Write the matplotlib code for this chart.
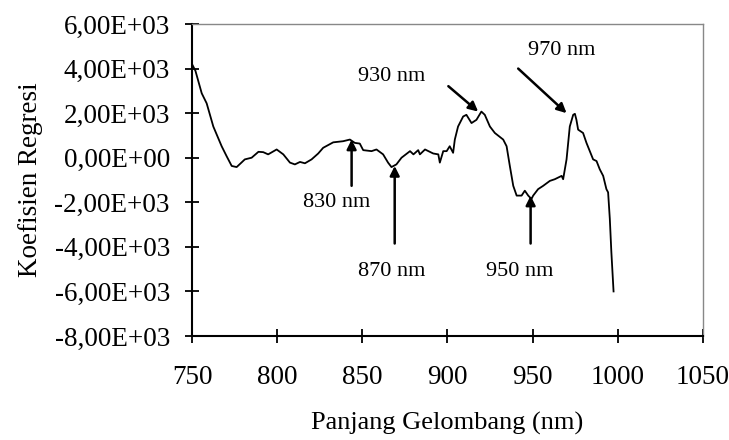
import matplotlib
matplotlib.use("Agg")
import matplotlib.pyplot as plt
from matplotlib.ticker import FuncFormatter

wavelength = [750, 752, 755.7, 758.6, 762.5, 767.4, 770.3, 773.3, 776.2, 779,
              781, 785, 789, 791.8, 794.7, 799.7, 803.6, 807.5, 810.4, 813.4,
              816.3, 820.2, 824.1, 827, 832.9, 838.7, 842.7, 845.6, 848.5, 850.5,
              855.4, 858.3, 862.2, 865.1, 867.1, 870, 873, 878, 880, 882.8,
              883.8, 886.8, 891.6, 894.6, 895.5, 897.5, 899.5, 901.3, 903.3, 904.3,
              906.2, 909.2, 911.1, 914.1, 917, 919.9, 921.9, 924.9, 927.8, 932.7,
              934.7, 936.6, 938.6, 940.6, 943.5, 945.4, 947.4, 949.3, 950.3, 953.2,
              956.2, 960.1, 963, 967, 967.9, 969.9, 971.8, 973.8, 974.8, 975.7,
              976.7, 979.6, 981.6, 985.5, 987.5, 989.4, 991.4, 993.3, 994.3, 995.3,
              996.2, 997.5]
coef = [4200, 3900, 2890, 2440, 1400, 515, 70, -370, -420, -220,
        -75, 0, 265, 250, 150, 370, 150, -220, -300, -190,
        -250, -75, 190, 445, 690, 740, 815, 665, 635, 340,
        295, 370, 150, -220, -420, -300, 0, 295, 150, 340,
        150, 370, 190, 150, -220, 295, 295, 515, 220, 815,
        1400, 1850, 1925, 1555, 1700, 2070, 1925, 1400, 1110, 815,
        515, -370, -1260, -1700, -1700, -1480, -1700, -1850, -1700, -1410,
        -1260, -1040, -965, -815, -965, -75, 1400, 1925, 1970, 1700,
        1260, 1110, 665, -75, -150, -520, -815, -1410, -1555, -2740,
        -4220, -6000]

# annotations: label, text position, arrow start, arrow tip
ann_labels = ["830 nm", "870 nm", "930 nm", "950 nm", "970 nm"]
ann_text = [(835, -2030), (867, -5110), (867, 3630), (942.5, -5110), (967, 4810)]
ann_from = [(843.7, -1260), (869, -3850), (900.5, 3210), (948.8, -3850), (941.5, 4000)]
ann_to = [(843.7, 815), (869, -370), (918, 2070), (948.8, -1700), (969.9, 2000)]

x_ticks = [750, 800, 850, 900, 950, 1000, 1050]
y_ticks = [-8000, -6000, -4000, -2000, 0, 2000, 4000, 6000]

plt.rcParams['font.family'] = ['Liberation Serif', 'DejaVu Serif']

fig = plt.figure(figsize=(7.29, 4.40), dpi=100)
ax = fig.add_axes([0.2634, 1 - 336 / 440, 0.7009, (336 - 24) / 440])

ax.plot(wavelength, coef, color='black', lw=1.3)

for lab, tp, fp, tip in zip(ann_labels, ann_text, ann_from, ann_to):
    ax.annotate('', xy=tip, xytext=fp,
                arrowprops=dict(arrowstyle='-|>', color='black', lw=1.8,
                                mutation_scale=14, shrinkA=0, shrinkB=0))
    ax.text(tp[0], tp[1], lab, ha='center', va='center', fontsize=16)

ax.set_xlim(750, 1050)
ax.set_ylim(-8000, 6000)
ax.set_xticks(x_ticks)
ax.set_yticks(y_ticks)
ax.yaxis.set_major_formatter(FuncFormatter(lambda v, p: f"{v:.2E}".replace('.', ',')))
ax.tick_params(axis='both', direction='inout', length=10, width=1.3, labelsize=19.5, color='black')
ax.tick_params(axis='x', pad=16)
ax.tick_params(axis='y', pad=11)

for s in ['left', 'bottom']:
    ax.spines[s].set_color('black')
    ax.spines[s].set_linewidth(1.5)
for s in ['top', 'right']:
    ax.spines[s].set_color('#888888')
    ax.spines[s].set_linewidth(1.0)

ax.set_xlabel('Panjang Gelombang (nm)', fontsize=19, labelpad=16)
ax.set_ylabel('Koefisien Regresi', fontsize=19.5, labelpad=8)

fig.savefig('out.png', dpi=100)
